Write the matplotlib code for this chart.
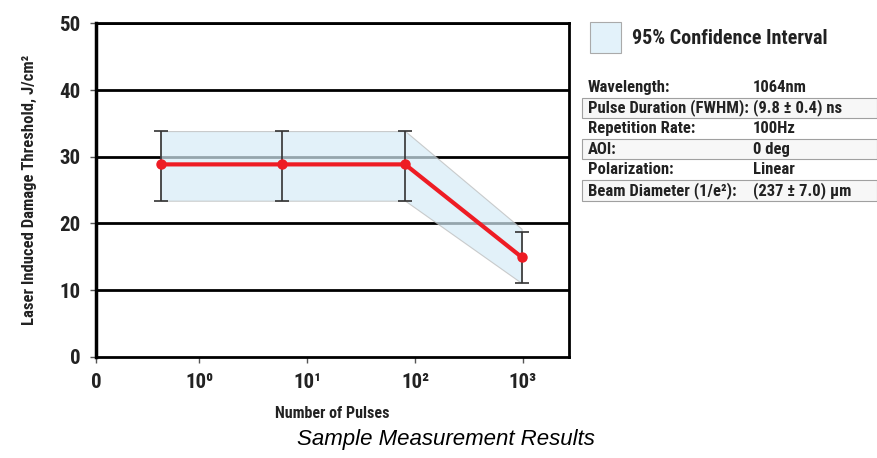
import numpy as np
import matplotlib.pyplot as plt
from matplotlib import font_manager
from matplotlib.patches import Rectangle

# data
pulses = [0.44, 5.9, 81, 970]
threshold = [28.85, 28.85, 28.85, 14.95]
err_hi = [33.85, 33.85, 33.85, 18.7]
err_lo = [23.4, 23.4, 23.4, 11.05]
band_hi = [33.85, 33.85, 33.85, 19.2]
band_lo = [23.4, 23.4, 23.4, 11.05]

# the "0" tick sits at the left edge of the log axis
x_tick_pos = [-0.95, 0, 1, 2, 3]
x_ticklabels = ["0", "10⁰", "10¹", "10²", "10³"]
y_ticks = [0, 10, 20, 30, 40, 50]

param_names = ["Wavelength:", "Pulse Duration (FWHM):", "Repetition Rate:", "AOI:",
               "Polarization:", "Beam Diameter (1/e²):"]
param_values = ["1064nm", "(9.8 ± 0.4) ns", "100Hz", "0 deg", "Linear", "(237 ± 7.0) µm"]

# pick a narrow font if there is one
fonts = font_manager.fontManager.ttflist
names = {f.name for f in fonts}
stretch = "normal"
fam = None
for cand in ["Liberation Sans Narrow", "Roboto Condensed", "Open Sans Condensed",
             "DejaVu Sans Condensed"]:
    if cand in names:
        fam = cand
        break
if fam is None:
    if any(f.name == "DejaVu Sans" and f.stretch == "condensed" for f in fonts):
        fam = "DejaVu Sans"
        stretch = "condensed"
    else:
        fam = "Roboto" if "Roboto" in names else "Liberation Sans"
plt.rcParams['font.family'] = [fam, "DejaVu Sans"]
plt.rcParams['font.stretch'] = stretch
txt = "#222222"

fig = plt.figure(figsize=(8.77, 4.58), dpi=100)
ax = fig.add_axes([96 / 877, 1 - 356.7 / 458, 473 / 877, 333.3 / 458])

lx = np.log10(pulses)
ax.fill_between(lx, band_lo, band_hi, facecolor="#d6ecf7", edgecolor="#b8b8b8",
                alpha=0.7, lw=0.8, zorder=3)
for y in y_ticks[1:]:
    ax.axhline(y, color="black", lw=2, zorder=2)
yerr = [np.array(threshold) - np.array(err_lo), np.array(err_hi) - np.array(threshold)]
ax.errorbar(lx, threshold, yerr=yerr, fmt="none", ecolor="#333333", elinewidth=1.2,
            capsize=5, capthick=1.2, zorder=4)
ax.plot(lx, threshold, color="#ee1c24", lw=3, marker="o", ms=6.5, zorder=5)

ax.set_xlim(-0.954, 3.426)
ax.set_ylim(0, 50)
ax.set_xticks(x_tick_pos)
ax.set_xticklabels(x_ticklabels)
ax.set_yticks(y_ticks)
for s in ax.spines.values():
    s.set_linewidth(2)
    s.set_color("black")
ax.spines["left"].set_linewidth(2.5)
ax.tick_params(axis="both", length=4, width=1, color="#555555", labelsize=15,
               labelcolor=txt)
ax.tick_params(axis="y", pad=7)
ax.tick_params(axis="x", pad=8)
for lab in ax.get_xticklabels() + ax.get_yticklabels():
    lab.set_fontweight("bold")

ax.set_ylabel("Laser Induced Damage Threshold, J/cm²", fontsize=12, fontweight="bold",
              color=txt, labelpad=16)
ax.set_xlabel("Number of Pulses", fontsize=11.5, fontweight="bold", color=txt, labelpad=10)
fig.text(446 / 877, 1 - 440 / 458, "Sample Measurement Results", fontsize=16,
         style="italic", family="Liberation Sans", stretch="normal", color="black",
         ha="center", va="center")

# legend swatch
fig.patches.append(Rectangle((590 / 877, 1 - 53 / 458), 31 / 877, 31 / 458,
                             transform=fig.transFigure, facecolor="#e3f2fa",
                             edgecolor="#aaaaaa", lw=0.8))
fig.text(632 / 877, 1 - 38 / 458, "95% Confidence Interval", fontsize=14.5,
         fontweight="bold", color=txt, va="center")

# parameter table
row_h = 20.6
top = 77
for i, (name, val) in enumerate(zip(param_names, param_values)):
    y0 = top + i * row_h
    if i % 2 == 1:
        fig.patches.append(Rectangle((582 / 877, 1 - (y0 + row_h) / 458), 295 / 877,
                                     row_h / 458, transform=fig.transFigure,
                                     facecolor="#f7f7f7", edgecolor="#a0a0a0", lw=0.8))
    yc = 1 - (y0 + row_h / 2) / 458
    fig.text(588 / 877, yc, name, fontsize=12, fontweight="bold", color=txt, va="center")
    fig.text(753 / 877, yc, val, fontsize=12, fontweight="bold", color=txt, va="center")

fig.savefig("out.png", dpi=100)
